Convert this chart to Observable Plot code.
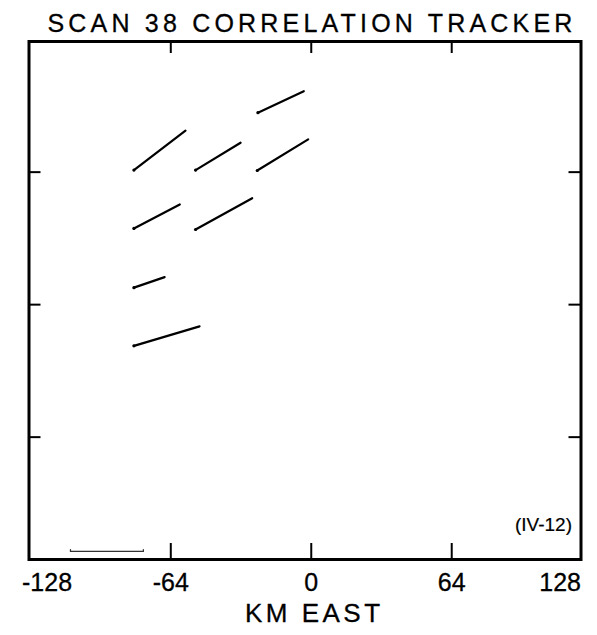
<!DOCTYPE html>
<html>
<head>
<meta charset="utf-8">
<script src="https://cdn.jsdelivr.net/npm/d3@7"></script>
<script src="https://cdn.jsdelivr.net/npm/@observablehq/plot@0.6"></script>
<style>
  html, body { margin: 0; padding: 0; background: #fff; }
  #chart svg { display: block; }
</style>
</head>
<body>
<div id="chart"></div>
<script>
// ---- data ----
const titleText = "SCAN 38 CORRELATION TRACKER";
const xAxisLabel = "KM EAST";
const figureTag = "(IV-12)";

// visible extent of the frame (km), as fitted to the tick marks of the scanned figure
const xDomain = [-128.6, 122.9];
const yDomain = [-123.1, 127.1];

// tick positions (km) and tick labels
const xTickValues = [-64, 0, 64];
const yTickValues = [-64, 0, 64];
const xTickLabels = [-128, -64, 0, 64, 128];

// motion vectors (km east, km north): start and end points
const vecX1 = [-24.3, -80.8, -52.7, -24.6, -80.8, -52.7, -80.8, -80.8];
const vecY1 = [92.7, 65.0, 65.0, 64.8, 36.8, 36.3, 8.2, -19.9];
const vecX2 = [-3.4, -57.3, -32.2, -1.4, -59.9, -26.9, -66.8, -50.9];
const vecY2 = [103.1, 84.0, 78.2, 79.8, 48.4, 51.4, 13.3, -10.5];

// reference (scale) bar in lower-left corner
const scaleBarX = [-109.7, -109.7, -76.5, -76.5];
const scaleBarY = [-118.4, -119.2, -119.2, -118.4];

// ---- build ----
const vectors = vecX1.map((x1, i) => ({x1, y1: vecY1[i], x2: vecX2[i], y2: vecY2[i]}));
const bar = scaleBarX.map((x, i) => ({x, y: scaleBarY[i]}));
const fmt = d => String(d);

const font = "'Liberation Sans', Arial, Helvetica, sans-serif";
const ink = {fill: "#000", stroke: "#000", strokeWidth: 0.3};

const chart = Plot.plot({
  width: 597,
  height: 635,
  marginLeft: 28.5,
  marginRight: 16.5,
  marginTop: 41,
  marginBottom: 76,
  style: {fontFamily: font, background: "#fff", color: "#000"},
  x: {domain: xDomain, axis: null},
  y: {domain: yDomain, axis: null},
  marks: [
    // inward tick marks on all four sides
    Plot.ruleX(xTickValues, {x: d => d, y1: yDomain[0], y2: yDomain[0], insetTop: -16, stroke: "#000", strokeWidth: 2}),
    Plot.ruleX(xTickValues, {x: d => d, y1: yDomain[1], y2: yDomain[1], insetBottom: -12, stroke: "#000", strokeWidth: 2}),
    Plot.ruleY(yTickValues, {y: d => d, x1: xDomain[0], x2: xDomain[0], insetRight: -12, stroke: "#000", strokeWidth: 2}),
    Plot.ruleY(yTickValues, {y: d => d, x1: xDomain[1], x2: xDomain[1], insetLeft: -12, stroke: "#000", strokeWidth: 2}),
    Plot.frame({stroke: "#000", strokeWidth: 3}),
    // motion vectors
    Plot.link(vectors, {x1: "x1", y1: "y1", x2: "x2", y2: "y2", stroke: "#000", strokeWidth: 2.2, strokeLinecap: "round"}),
    Plot.dot(vectors, {x: "x1", y: "y1", r: 1.6, fill: "#000", stroke: null}),
    // scale bar
    Plot.line(bar, {x: "x", y: "y", stroke: "#333", strokeWidth: 1.3}),
    // x tick labels (the two end labels sit inside the frame corners)
    Plot.text([xTickLabels[0]], {frameAnchor: "bottom-left", text: fmt, textAnchor: "start", lineAnchor: "bottom", dx: -7, dy: 31, fontSize: 25, ...ink}),
    Plot.text(xTickLabels.slice(1, 4), {x: d => d, frameAnchor: "bottom", text: fmt, textAnchor: "middle", lineAnchor: "bottom", dy: 31, fontSize: 25, ...ink}),
    Plot.text([xTickLabels[4]], {frameAnchor: "bottom-right", text: fmt, textAnchor: "end", lineAnchor: "bottom", dy: 31, fontSize: 25, ...ink}),
    // axis title
    Plot.text([xAxisLabel], {x: 0, frameAnchor: "bottom", text: d => d, textAnchor: "middle", lineAnchor: "bottom", dy: 62, dx: 3, fontSize: 26, ...ink}),
    // chart title
    Plot.text([titleText], {frameAnchor: "top", text: d => d, textAnchor: "middle", lineAnchor: "bottom", dy: -9.5, dx: 7, fontSize: 25, ...ink}),
    // figure tag
    Plot.text([figureTag], {frameAnchor: "bottom-right", text: d => d, textAnchor: "end", lineAnchor: "bottom", dx: -9, dy: -29, fontSize: 19, ...ink, strokeWidth: 0.2})
  ]
});

d3.select(chart).selectAll("text").filter(function() { return this.textContent === titleText; }).attr("letter-spacing", "4.2px");
d3.select(chart).selectAll("text").filter(function() { return this.textContent === xAxisLabel; }).attr("letter-spacing", "3.5px");

document.getElementById("chart").append(chart);
</script>
</body>
</html>
